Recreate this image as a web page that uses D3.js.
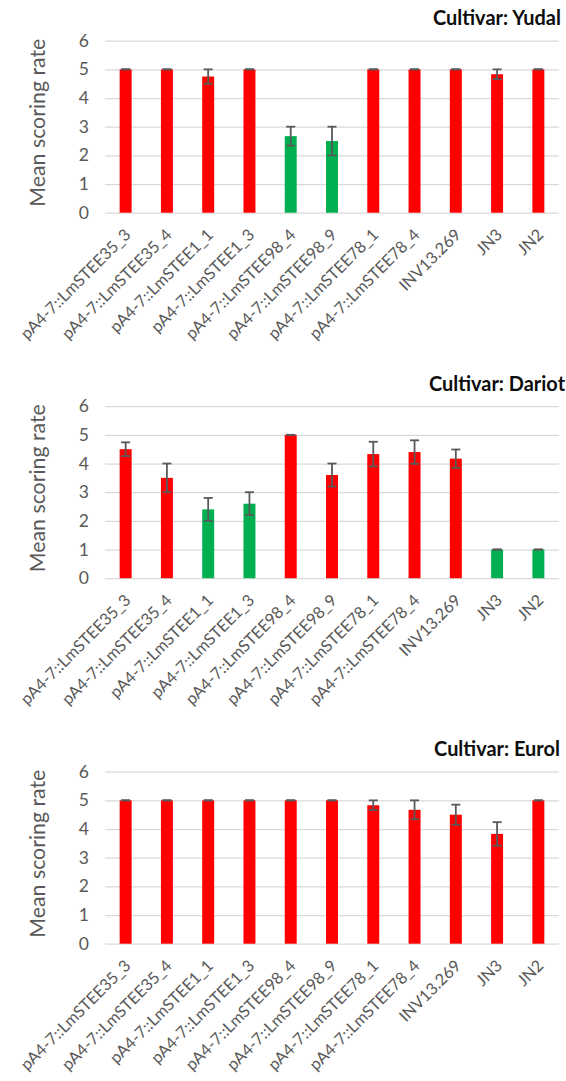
<!DOCTYPE html>
<html><head><meta charset="utf-8">
<script src="https://cdn.jsdelivr.net/npm/d3@7"></script>
<style>
body{margin:0;background:#fff}
svg text{font-family:Lato,"Open Sans",sans-serif}
</style>
</head><body>
<svg id="chart" width="566" height="1081"></svg>
<script>
// ---------- data ----------
const categories = ["pA4-7::LmSTEE35_3","pA4-7::LmSTEE35_4","pA4-7::LmSTEE1_1","pA4-7::LmSTEE1_3","pA4-7::LmSTEE98_4","pA4-7::LmSTEE98_9","pA4-7::LmSTEE78_1","pA4-7::LmSTEE78_4","INV13.269","JN3","JN2"];
const cultivars = ["Yudal","Dariot","Eurol"];
const yTicks = [0,1,2,3,4,5,6];

const yudalMeans  = [5,5,4.75,5,2.67,2.5,5,5,5,4.83,5];
const yudalErrors = [0,0,0.25,0,0.33,0.5,0,0,0,0.17,0];
const yudalGroups = ["S","S","S","S","R","R","S","S","S","S","S"];

const dariotMeans  = [4.5,3.5,2.4,2.6,5,3.6,4.33,4.4,4.17,1,1];
const dariotErrors = [0.24,0.5,0.4,0.4,0,0.4,0.43,0.41,0.32,0,0];
const dariotGroups = ["S","S","R","R","S","S","S","S","S","R","R"];

const eurolMeans  = [5,5,5,5,5,5,4.83,4.67,4.5,3.83,5];
const eurolErrors = [0,0,0,0,0,0,0.17,0.33,0.35,0.41,0];
const eurolGroups = ["S","S","S","S","S","S","S","S","S","S","S"];

const panelMeans  = [yudalMeans, dariotMeans, eurolMeans];
const panelErrors = [yudalErrors, dariotErrors, eurolErrors];
const panelGroups = [yudalGroups, dariotGroups, eurolGroups];

// ---------- layout ----------
const svg = d3.select("#chart");
const panelTop = [0, 365.5, 731];
const plotLeft = 105, plotRight = 559;
const plotTopRel = 40.7, plotBottomRel = 212.7;
const grey = "#595959";
const color = d3.scaleOrdinal().domain(["S","R"]).range(["#FF0000","#00B050"]);

const x = d3.scaleBand().domain(categories).range([plotLeft, plotRight])
  .paddingInner(0.71).paddingOuter(0.355);

function fit(sel, base, target){
  sel.style("font-size", base + "px");
  const w = sel.node().getComputedTextLength();
  const s = base * target / w;
  sel.style("font-size", s + "px");
  return s;
}

let xLabelSize = null, yTitleSize = null, titleSize = null;

cultivars.forEach((cv, p) => {
  const top = panelTop[p];
  const g = svg.append("g").attr("transform", `translate(0,${top})`);
  const y = d3.scaleLinear().domain([0,6]).range([plotBottomRel, plotTopRel]);

  // gridlines + y tick labels
  const ya = g.append("g").attr("transform", `translate(${plotLeft},0)`)
    .call(d3.axisLeft(y).tickValues(yTicks).tickFormat(d3.format("d"))
      .tickSizeInner(-(plotRight - plotLeft)).tickSizeOuter(0).tickPadding(16));
  ya.select(".domain").remove();
  ya.selectAll("line").attr("stroke", "#D9D9D9").attr("stroke-width", 1.2);
  ya.selectAll("text").attr("fill", grey).style("font-size", "17.5px");

  // x labels
  const xa = g.append("g").attr("transform", `translate(0,${plotBottomRel})`)
    .call(d3.axisBottom(x).tickSize(0));
  xa.select(".domain").remove();
  const xt = xa.selectAll("text")
    .attr("fill", grey)
    .attr("x", 0).attr("y", 0).attr("dy", "0.35em")
    .attr("text-anchor", "end")
    .attr("transform", "translate(2,19) rotate(-45)");
  if (xLabelSize === null) {
    xLabelSize = fit(d3.select(xt.nodes()[0]), 16, 148);
  }
  xt.style("font-size", xLabelSize + "px");

  // bars
  const means = panelMeans[p], errs = panelErrors[p], groups = panelGroups[p];
  g.append("g").selectAll("rect").data(categories).join("rect")
    .attr("x", d => x(d))
    .attr("width", x.bandwidth())
    .attr("y", (d,i) => y(means[i]))
    .attr("height", (d,i) => y(0) - y(means[i]))
    .attr("fill", (d,i) => color(groups[i]));

  // error bars
  const capW = 9;
  const eb = g.append("g").attr("stroke", grey).attr("stroke-width", 1.8);
  categories.forEach((c,i) => {
    const cx = x(c) + x.bandwidth()/2;
    const hi = y(means[i] + errs[i]), lo = y(means[i] - errs[i]);
    eb.append("line").attr("x1", cx).attr("x2", cx).attr("y1", hi).attr("y2", lo);
    eb.append("line").attr("x1", cx - capW/2).attr("x2", cx + capW/2).attr("y1", hi).attr("y2", hi);
    eb.append("line").attr("x1", cx - capW/2).attr("x2", cx + capW/2).attr("y1", lo).attr("y2", lo);
  });

  // y axis title
  const yt = g.append("text")
    .attr("transform", `translate(38,${(plotTopRel + plotBottomRel)/2 - 4}) rotate(-90)`)
    .attr("text-anchor", "middle").attr("dy", "0.35em")
    .attr("fill", grey).text("Mean scoring rate");
  if (yTitleSize === null) yTitleSize = fit(yt, 18, 168);
  yt.style("font-size", yTitleSize + "px");

  // chart title
  const tt = g.append("text").attr("x", 497).attr("y", 25)
    .attr("text-anchor", "middle").attr("font-weight", "bold")
    .attr("fill", "#0D0D0D").text("Cultivar: " + cv);
  if (titleSize === null) titleSize = fit(tt, 16, 128);
  tt.style("font-size", titleSize + "px");
});
</script>
</body></html>
